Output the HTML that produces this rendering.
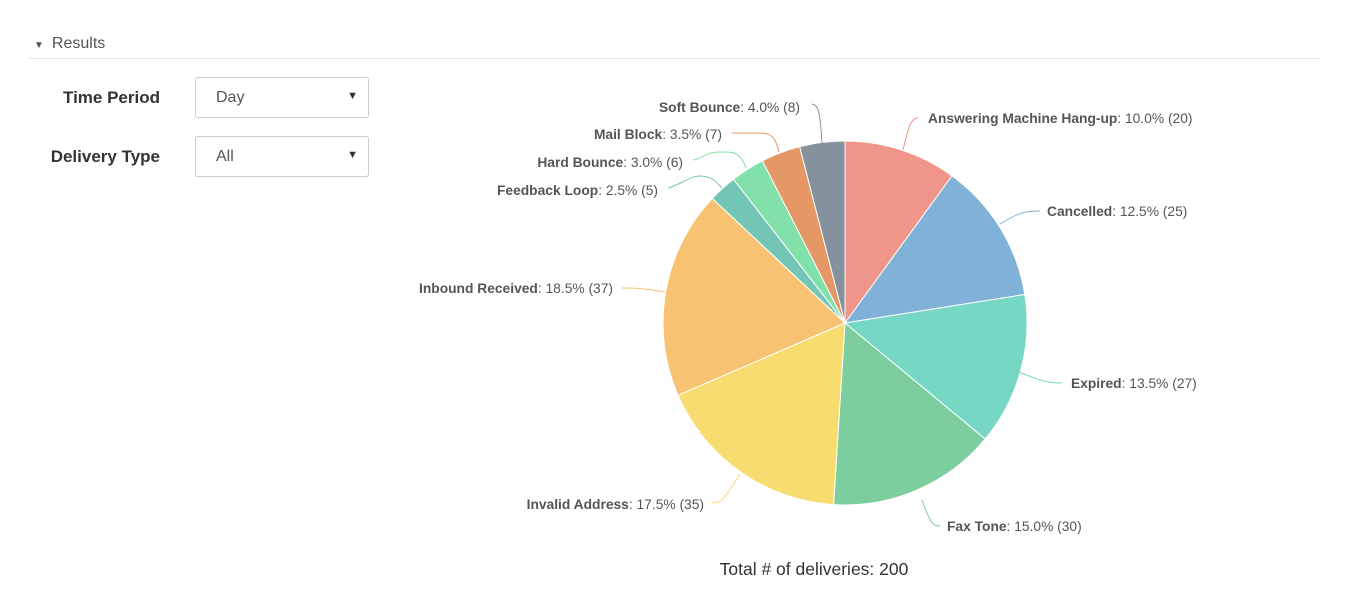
<!DOCTYPE html>
<html><head><meta charset="utf-8"><style>
body{margin:0;width:1348px;height:601px;background:#fff;font-family:"Liberation Sans",sans-serif;position:relative;overflow:hidden}
.hdr{position:absolute;left:34px;top:35px;font-size:16px;color:#555}
.line{position:absolute;left:28px;top:58px;width:1292px;height:1px;background:#e5e5e5}
.lbl{position:absolute;font-weight:bold;font-size:17px;color:#333;text-align:right;width:160px}
.sel{position:absolute;left:195px;width:174px;height:41px;border:1px solid #ccc;border-radius:3px;font-size:16px;color:#555;box-sizing:border-box;padding:11px 0 0 20px}
.sel:after{content:"▼";position:absolute;right:10px;top:12px;font-size:11px;color:#333}
</style></head><body>
<div class="hdr"><span style="font-size:10px;margin-right:8px">▼</span>Results</div>
<div class="line"></div>
<div class="lbl" style="left:0;top:88px">Time Period</div>
<div class="sel" style="top:77px">Day</div>
<div class="lbl" style="left:0;top:147px">Delivery Type</div>
<div class="sel" style="top:136px">All</div>
<svg width="1348" height="601" style="position:absolute;left:0;top:0" font-family="Liberation Sans, sans-serif" font-size="13.8">
<g stroke="#fff" stroke-width="1">
<path d="M845,323L845,141A182,182 0 0 1 952,175.8Z" fill="#f0958a"/>
<path d="M845,323L952,175.8A182,182 0 0 1 1024.8,294.5Z" fill="#7fb2d6"/>
<path d="M845,323L1024.8,294.5A182,182 0 0 1 985.2,439Z" fill="#76d7c4"/>
<path d="M845,323L985.2,439A182,182 0 0 1 833.6,504.6Z" fill="#7dce9e"/>
<path d="M845,323L833.6,504.6A182,182 0 0 1 678,395.3Z" fill="#f7dc6f"/>
<path d="M845,323L678,395.3A182,182 0 0 1 712.3,198.4Z" fill="#f7c373"/>
<path d="M845,323L712.3,198.4A182,182 0 0 1 733.5,179.2Z" fill="#73c6b6"/>
<path d="M845,323L733.5,179.2A182,182 0 0 1 762.4,160.8Z" fill="#82e0aa"/>
<path d="M845,323L762.4,160.8A182,182 0 0 1 799.7,146.7Z" fill="#e59866"/>
<path d="M845,323L799.7,146.7A182,182 0 0 1 845,141Z" fill="#85929e"/>
</g>
<g fill="none" stroke-width="1">
<path d="M903,150C908,130 910,118 918,118" stroke="#f0958a"/>
<path d="M1000,224C1020,212 1025,211 1040,211" stroke="#7fb2d6"/>
<path d="M1018,372C1040,380 1045,383 1062,383" stroke="#76d7c4"/>
<path d="M922,500C930,522 932,526 940,526" stroke="#7dce9e"/>
<path d="M740,474C725,498 722,503 712,503" stroke="#f7dc6f"/>
<path d="M665,292C640,288 635,288 622,288" stroke="#f7c373"/>
<path d="M722,188C715,180 710,176 700,176C690,176 680,185 668,188" stroke="#73c6b6"/>
<path d="M746,168C740,152 735,152 720,152C705,152 700,160 693,160" stroke="#82e0aa"/>
<path d="M779,152C775,135 770,133 758,133L732,133" stroke="#e59866"/>
<path d="M822,143C820,110 818,105 812,104" stroke="#85929e"/>
</g>
<g fill="#555">
<text x="928" y="123"><tspan font-weight="bold">Answering Machine Hang-up</tspan>: 10.0% (20)</text>
<text x="1047" y="216"><tspan font-weight="bold">Cancelled</tspan>: 12.5% (25)</text>
<text x="1071" y="388"><tspan font-weight="bold">Expired</tspan>: 13.5% (27)</text>
<text x="947" y="531"><tspan font-weight="bold">Fax Tone</tspan>: 15.0% (30)</text>
<text x="704" y="509" text-anchor="end"><tspan font-weight="bold">Invalid Address</tspan>: 17.5% (35)</text>
<text x="613" y="293" text-anchor="end"><tspan font-weight="bold">Inbound Received</tspan>: 18.5% (37)</text>
<text x="658" y="195" text-anchor="end"><tspan font-weight="bold">Feedback Loop</tspan>: 2.5% (5)</text>
<text x="683" y="167" text-anchor="end"><tspan font-weight="bold">Hard Bounce</tspan>: 3.0% (6)</text>
<text x="722" y="139" text-anchor="end"><tspan font-weight="bold">Mail Block</tspan>: 3.5% (7)</text>
<text x="800" y="112" text-anchor="end"><tspan font-weight="bold">Soft Bounce</tspan>: 4.0% (8)</text>
</g>
<text x="814" y="575" text-anchor="middle" font-size="17.5" fill="#333">Total # of deliveries: 200</text>
</svg>
</body></html>
